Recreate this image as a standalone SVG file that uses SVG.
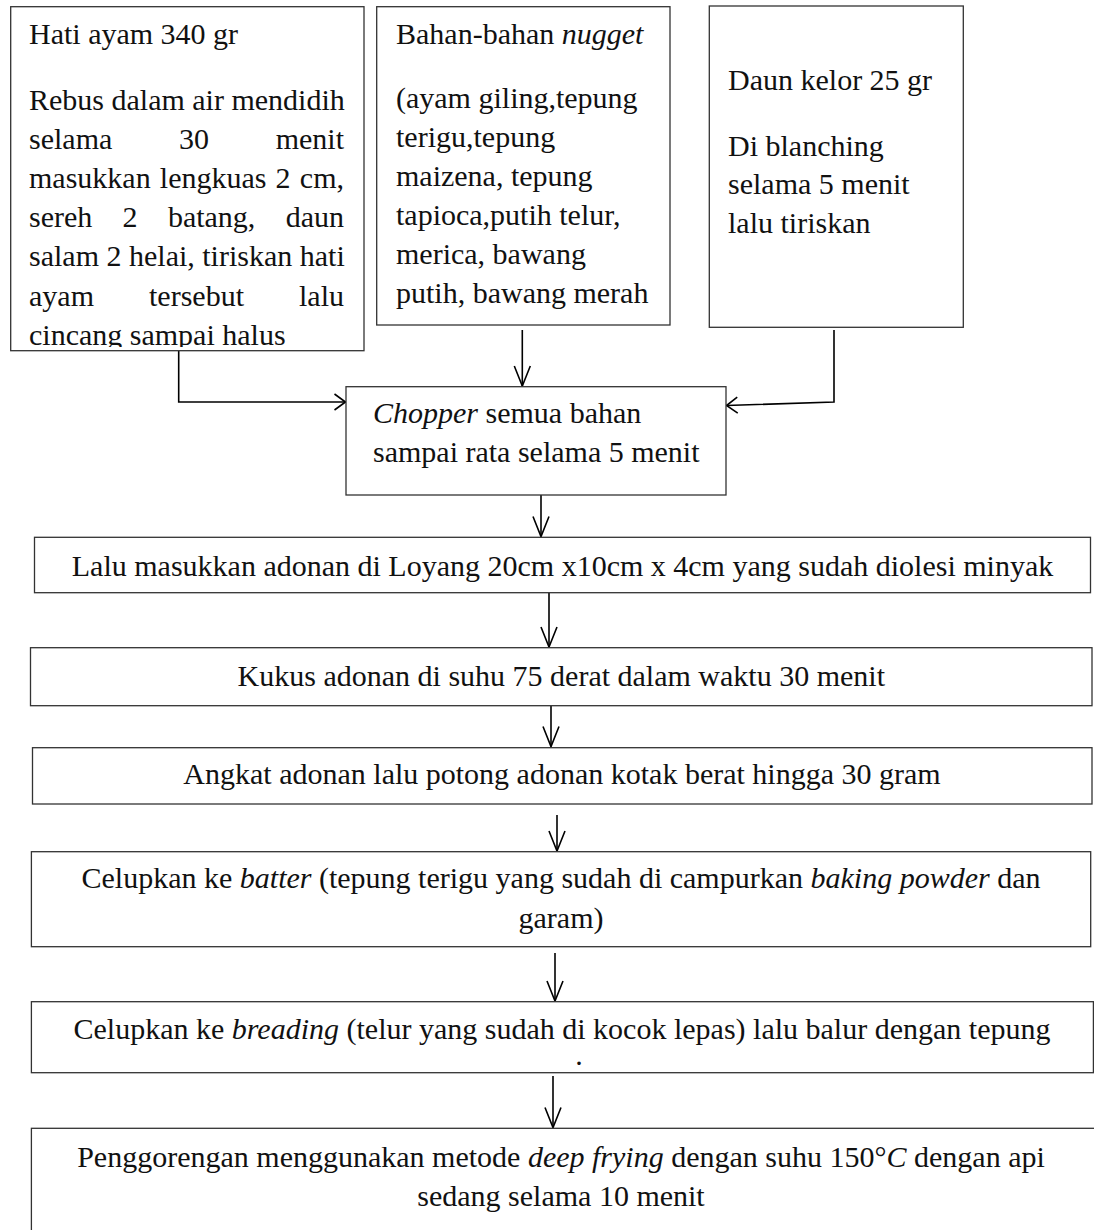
<svg xmlns="http://www.w3.org/2000/svg" width="1094" height="1230" viewBox="0 0 1094 1230">
<style>
.box{fill:#fff;stroke:#333;stroke-width:1.3}
.t{font-family:"Liberation Serif","Times New Roman",serif;font-size:30px;fill:#111}
.c{text-anchor:middle}
.e{text-anchor:end}
.i{font-style:italic}
.con{fill:none;stroke:#000;stroke-width:1.6}
</style>
<defs>
<marker id="ah" viewBox="-22 -10 24 20" refX="0" refY="0" markerWidth="24" markerHeight="20" markerUnits="userSpaceOnUse" orient="auto">
<path d="M-20,-8 L0,0 L-20,8" fill="none" stroke="#000" stroke-width="1.6"/>
</marker>
<marker id="ahs" viewBox="-22 -10 24 20" refX="0" refY="0" markerWidth="24" markerHeight="20" markerUnits="userSpaceOnUse" orient="auto">
<path d="M-11,-8 L0,0 L-11,8" fill="none" stroke="#000" stroke-width="1.6"/>
</marker>
<clipPath id="clip1"><rect x="10" y="6" width="355" height="341"/></clipPath>
</defs>

<g id="connectors">
<path class="con" d="M178.7,351 V402 H345.5" marker-end="url(#ahs)"/>
<path class="con" d="M522.3,330 V386" marker-end="url(#ah)"/>
<path class="con" d="M834,330 V402 L726.5,405.5" marker-end="url(#ahs)"/>
<path class="con" d="M541,495 V536.5" marker-end="url(#ah)"/>
<path class="con" d="M549,593 V647" marker-end="url(#ah)"/>
<path class="con" d="M551,706 V746.5" marker-end="url(#ah)"/>
<path class="con" d="M557,815 V851" marker-end="url(#ah)"/>
<path class="con" d="M555,953 V1001" marker-end="url(#ah)"/>
<path class="con" d="M553,1076 V1127.5" marker-end="url(#ah)"/>
</g>

<g id="node-hati">
<rect class="box" x="10.7" y="6.7" width="353.3" height="344"/>
<g clip-path="url(#clip1)">
<text class="t" x="29" y="44">Hati ayam 340 gr</text>
<text class="t" x="29" y="109.5">Rebus dalam air mendidih</text>
<text class="t" y="148.7"><tspan x="29">selama</tspan><tspan x="179">30</tspan></text>
<text class="t e" x="344" y="148.7">menit</text>
<text class="t" y="187.9"><tspan x="29">masukkan</tspan><tspan x="159.8">lengkuas</tspan><tspan x="275.6">2</tspan></text>
<text class="t e" x="344" y="187.9">cm,</text>
<text class="t" y="227.1"><tspan x="29">sereh</tspan><tspan x="122.6">2</tspan><tspan x="167.9">batang,</tspan></text>
<text class="t e" x="344" y="227.1">daun</text>
<text class="t" x="29" y="266.3">salam 2 helai, tiriskan hati</text>
<text class="t" y="305.5"><tspan x="29">ayam</tspan><tspan x="149">tersebut</tspan></text>
<text class="t e" x="344" y="305.5">lalu</text>
<text class="t" x="29" y="344.7">cincang sampai halus</text>
</g>
</g>

<g id="node-bahan">
<rect class="box" x="376.7" y="6.7" width="293.3" height="318.3"/>
<text class="t" x="396" y="43.5">Bahan-bahan <tspan class="i">nugget</tspan></text>
<text class="t" x="396" y="107.5">(ayam giling,tepung</text>
<text class="t" x="396" y="146.5">terigu,tepung</text>
<text class="t" x="396" y="185.5">maizena, tepung</text>
<text class="t" x="396" y="224.5">tapioca,putih telur,</text>
<text class="t" x="396" y="263.5">merica, bawang</text>
<text class="t" x="396" y="302.5">putih, bawang merah</text>
</g>

<g id="node-kelor">
<rect class="box" x="709.3" y="6" width="254" height="321.3"/>
<text class="t" x="728" y="90">Daun kelor 25 gr</text>
<text class="t" x="728" y="155.5">Di blanching</text>
<text class="t" x="728" y="194.3">selama 5 menit</text>
<text class="t" x="728" y="233.1">lalu tiriskan</text>
</g>

<g id="node-chopper">
<rect class="box" x="346" y="386.7" width="380" height="108.3"/>
<text class="t" x="373" y="422.5"><tspan class="i">Chopper</tspan> semua bahan</text>
<text class="t" x="373" y="461.5">sampai rata selama 5 menit</text>
</g>

<g id="node-loyang">
<rect class="box" x="34.5" y="537.3" width="1056" height="55.4"/>
<text class="t c" x="562.5" y="575.5">Lalu masukkan adonan di Loyang 20cm x10cm x 4cm yang sudah diolesi minyak</text>
</g>

<g id="node-kukus">
<rect class="box" x="30.5" y="647.7" width="1061.5" height="58"/>
<text class="t c" x="561.3" y="685.5">Kukus adonan di suhu 75 derat dalam waktu 30 menit</text>
</g>

<g id="node-angkat">
<rect class="box" x="32.5" y="747.7" width="1059.5" height="56.3"/>
<text class="t c" x="562" y="784">Angkat adonan lalu potong adonan kotak berat hingga 30 gram</text>
</g>

<g id="node-batter">
<rect class="box" x="31.4" y="851.7" width="1059.3" height="95"/>
<text class="t c" x="561" y="888">Celupkan ke <tspan class="i">batter</tspan> (tepung terigu yang sudah di campurkan <tspan class="i">baking powder</tspan> dan</text>
<text class="t c" x="561" y="928">garam)</text>
</g>

<g id="node-breading">
<rect class="box" x="31.4" y="1001.7" width="1062" height="71"/>
<text class="t c" x="562" y="1039">Celupkan ke <tspan class="i">breading</tspan> (telur yang sudah di kocok lepas) lalu balur dengan tepung</text>
<text class="t c" x="579" y="1065">.</text>
</g>

<g id="node-goreng">
<rect class="box" x="31.4" y="1128.3" width="1080" height="120"/>
<text class="t c" x="561" y="1167">Penggorengan menggunakan metode <tspan class="i">deep frying</tspan> dengan suhu 150°<tspan class="i">C</tspan> dengan api</text>
<text class="t c" x="561" y="1206">sedang selama 10 menit</text>
</g>
</svg>
